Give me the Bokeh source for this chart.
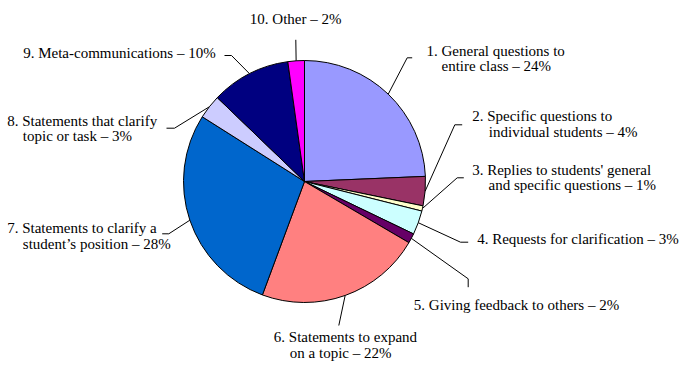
import math
from bokeh.plotting import figure
from bokeh.models import Range1d, ColumnDataSource
from bokeh.embed import file_html
from bokeh.resources import INLINE
from bokeh.core.properties import value

# ---- data ----
categories = [
    "General questions to entire class",
    "Specific questions to individual students",
    "Replies to students' general and specific questions",
    "Requests for clarification",
    "Giving feedback to others",
    "Statements to expand on a topic",
    "Statements to clarify a student's position",
    "Statements that clarify topic or task",
    "Meta-communications",
    "Other",
]
shares = [24.3, 3.9, 0.7, 3.2, 1.3, 22.2, 28.3, 3.2, 10.6, 2.2]
label_first = [
    "1. General questions to",
    "2. Specific questions to",
    "3. Replies to students' general",
    "4. Requests for clarification \u2013 3%",
    "5. Giving feedback to others \u2013 2%",
    "6. Statements to expand",
    "7. Statements to clarify a",
    "8. Statements that clarify",
    "9. Meta-communications \u2013 10%",
    "10. Other \u2013 2%",
]
label_second = [
    "entire class \u2013 24%",
    "individual students \u2013 4%",
    "and specific questions \u2013 1%",
    "",
    "",
    "on a topic \u2013 22%",
    "student\u2019s position \u2013 28%",
    "topic or task \u2013 3%",
    "",
    "",
]
colors = ["#9999FF", "#993366", "#FFFFCC", "#CCFFFF", "#660066",
          "#FF8080", "#0066CC", "#CCCCFF", "#000080", "#FF00FF"]

# ---- layout (screen pixel positions) ----
W, H = 689, 369
CX, CY, R = 304, 181, 121
# label: (x first line, x second line, y center first line)
label_pos = [
    (426, 441, 50), (471.7, 488.3, 115.7), (471.7, 488, 169.3),
    (476.7, 0, 238.3), (413.3, 0, 304), (273.3, 289.3, 336.7),
    (6.7, 22.3, 227.7), (6.7, 22.3, 120), (22.7, 0, 52.7), (249.3, 0, 18.3),
]
LINE_GAP = 15.5
# leader line: elbow point, end point
leader_pts = [
    ((406.7, 57.3), (411.7, 57.3)), ((454.3, 124.3), (461.7, 124.3)),
    ((456.7, 177.3), (463.3, 177.3)), ((460, 241.7), (467.7, 241.7)),
    ((467.7, 278.3), (467.7, 286.7)), ((338.3, 325), (338.3, 325)),
    ((168.3, 233.3), (161.7, 233.3)), ((174, 127.7), (166, 127.7)),
    ((231, 55), (224, 55)), ((295.3, 39.3), (295.3, 39.3)),
]

def fy(Y):
    return H - Y

total = sum(shares)
starts, ends, mids = [], [], []
cum = 0.0
for s in shares:
    a0 = math.pi / 2 - 2 * math.pi * cum / total
    cum += s
    a1 = math.pi / 2 - 2 * math.pi * cum / total
    starts.append(a0)
    ends.append(a1)
    mids.append((a0 + a1) / 2)

p = figure(width=W, height=H, output_backend="svg", toolbar_location=None,
           x_range=Range1d(0, W), y_range=Range1d(0, H), min_border=0)
p.axis.visible = False
p.grid.visible = False
p.outline_line_color = None
p.background_fill_color = "white"

src = ColumnDataSource(dict(start=starts, end=ends, color=colors, cat=categories))
p.wedge(x=CX, y=fy(CY), radius=R, start_angle="start", end_angle="end",
        direction="clock", fill_color="color", line_color="black", line_width=1,
        source=src)

xs, ys = [], []
for m, (el, en) in zip(mids, leader_pts):
    ex = CX + R * math.cos(m)
    ey = fy(CY) + R * math.sin(m)
    xs.append([ex, el[0], en[0]])
    ys.append([ey, fy(el[1]), fy(en[1])])
p.multi_line(xs=xs, ys=ys, line_color="black", line_width=1)

tx, ty, tt = [], [], []
for (x1, x2, y1), t1, t2 in zip(label_pos, label_first, label_second):
    tx.append(x1); ty.append(fy(y1)); tt.append(t1)
    if t2:
        tx.append(x2); ty.append(fy(y1 + LINE_GAP)); tt.append(t2)
p.text(x=tx, y=ty, text=tt, text_font=value("Liberation Serif, Times New Roman, serif"),
       text_font_size="15px", text_baseline="middle", text_align="left",
       text_color="black")

open("out.html", "w").write(file_html(p, INLINE))
